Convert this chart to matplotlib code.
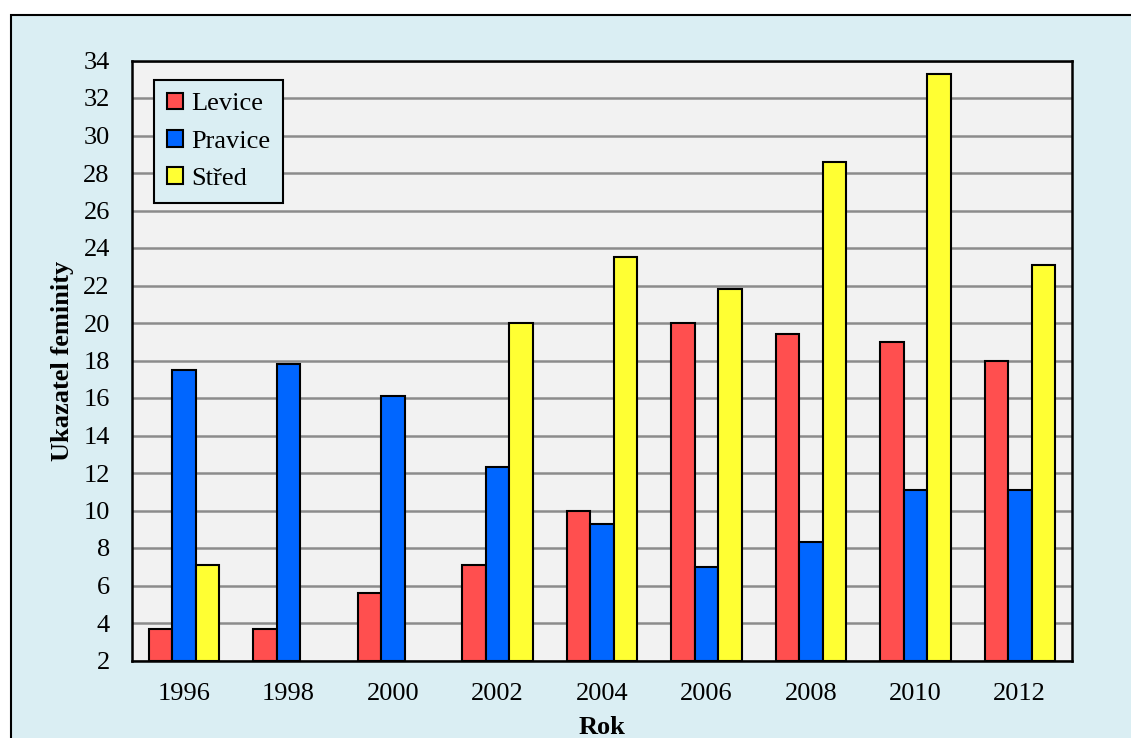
import numpy as np
import matplotlib
matplotlib.use("Agg")
import matplotlib.pyplot as plt
from matplotlib.patches import Rectangle

years = ["1996", "1998", "2000", "2002", "2004", "2006", "2008", "2010", "2012"]
levice = [3.7, 3.7, 5.6, 7.1, 10.0, 20.0, 19.4, 19.0, 18.0]
pravice = [17.5, 17.8, 16.1, 12.3, 9.3, 7.0, 8.3, 11.1, 11.1]
stred = [7.1, np.nan, np.nan, 20.0, 23.5, 21.8, 28.6, 33.3, 23.1]
series_names = ["Levice", "Pravice", "Střed"]
yticks = list(range(2, 35, 2))

plt.rcParams['font.family'] = ['Liberation Serif', 'DejaVu Serif']

fig = plt.figure(figsize=(11.31, 7.38), dpi=100)
fig.patch.set_facecolor("white")
fig.patches.append(Rectangle((11/1131, -0.05), 1.2, (738-15)/738 + 0.05,
                             transform=fig.transFigure, facecolor="#DAEEF3",
                             edgecolor="black", linewidth=1.5, zorder=-10))

ax = fig.add_axes([132/1131, 1-660.5/738, (1072-132)/1131, (660.5-60.5)/738])
ax.set_facecolor("#F2F2F2")

x = np.arange(len(years))
w = 0.225
colors = ["#FF4F4F", "#0066FF", "#FFFF33"]
base = 2
for i, (vals, c, n) in enumerate(zip([levice, pravice, stred], colors, series_names)):
    v = np.array(vals, dtype=float)
    ax.bar(x + (i-1)*w, v - base, bottom=base, width=w, color=c, edgecolor="black",
           linewidth=1.5, label=n, zorder=3)

ax.set_xlim(-0.5, len(years)-0.5)
ax.set_ylim(2, 34)
ax.set_yticks(yticks)
ax.set_xticks(x)
ax.set_xticklabels(years)
ax.tick_params(axis='both', length=0, labelsize=19)
ax.tick_params(axis='y', pad=16)
ax.tick_params(axis='x', pad=16)
ax.grid(axis='y', color="#8C8C8C", linewidth=1.8, zorder=1)
ax.set_axisbelow(True)
for s in ax.spines.values():
    s.set_linewidth(1.8)
    s.set_color("black")

ax.set_ylabel("Ukazatel feminity", fontsize=19, fontweight="bold", labelpad=7)
ax.set_xlabel("Rok", fontsize=19, fontweight="bold", labelpad=8)

leg = ax.legend(loc="upper left", bbox_to_anchor=(22/940, 1-19/600), fontsize=19,
                frameon=True, fancybox=False, facecolor="#DAEEF3", edgecolor="black",
                handlelength=0.6, handleheight=0.6, handletextpad=0.3,
                labelspacing=0.55, borderpad=0.5, borderaxespad=0)
leg.get_frame().set_linewidth(1.5)
leg.get_frame().set_alpha(1)

fig.savefig("out.png", dpi=100)
